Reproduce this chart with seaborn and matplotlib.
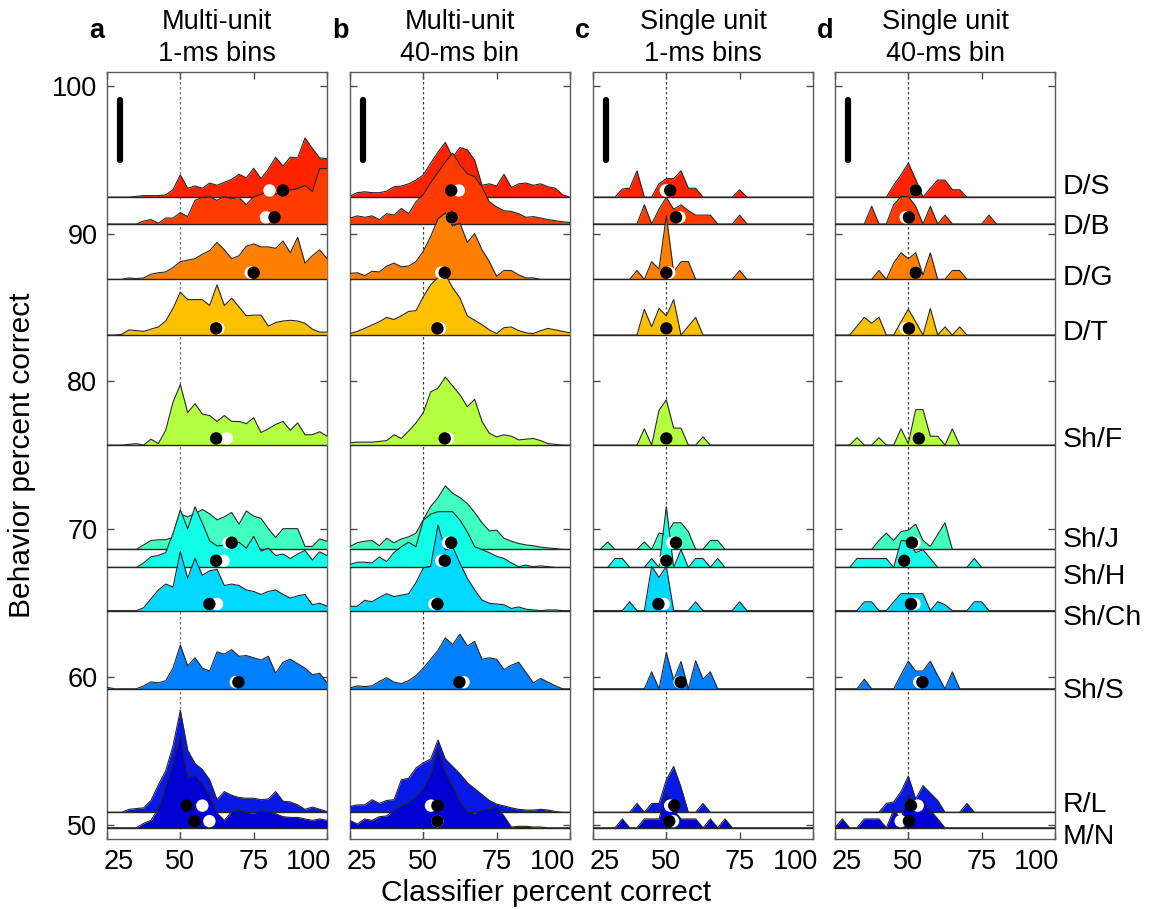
import numpy as np
import pandas as pd
import matplotlib
matplotlib.use("Agg")
import matplotlib.pyplot as plt
import seaborn as sns
from matplotlib.transforms import ScaledTranslation, blended_transform_factory

sns.set_theme(style="white")
plt.rcParams['font.family'] = ['Liberation Sans', 'DejaVu Sans']
plt.rcParams['text.color'] = 'black'
plt.rcParams['axes.labelcolor'] = 'black'
plt.rcParams['xtick.color'] = 'black'
plt.rcParams['ytick.color'] = 'black'

# ---------------- data ----------------
tasks = ['D/S', 'D/B', 'D/G', 'D/T', 'Sh/F', 'Sh/J', 'Sh/H', 'Sh/Ch', 'Sh/S', 'R/L', 'M/N']
behavior_pct = [92.48, 90.66, 86.91, 83.14, 75.69, 68.63, 67.41, 64.48, 59.19, 50.83, 49.78]
label_pos = [93.18, 90.47, 87.0, 83.3, 76.03, 69.26, 66.78, 63.98, 59.06, 51.32, 49.18]
task_colors = ['#ff2200', '#ff3c00', '#ff8000', '#ffc000', '#b4ff40', '#40ffc0',
               '#10ffe8', '#00d8ff', '#0080ff', '#0818e6', '#0000d2']
classifier_pct = [25, 27.5, 30, 32.5, 35, 37.5, 40, 42.5, 45, 47.5, 50, 52.5, 55, 57.5, 60,
                  62.5, 65, 67.5, 70, 72.5, 75, 77.5, 80, 82.5, 85, 87.5, 90, 92.5, 95, 97.5, 100]

panel_letters = ['a', 'b', 'c', 'd']
title_line1 = ['Multi-unit', 'Multi-unit', 'Single unit', 'Single unit']
title_line2 = ['1-ms bins', '40-ms bin', '1-ms bins', '40-ms bin']
x_ticks = [25, 50, 75, 100]
y_ticks = [50, 60, 70, 80, 90, 100]

hist_a = {
    'D/S': [0,0,0,0,0.05,0.1,0.1,0.1,0.15,0.5,1.5,0.6,0.75,0.6,0.95,0.8,1.0,1.2,1.55,1.3,1.95,1.25,1.9,2.7,2.1,2.7,2.65,4.0,3.3,2.65,2.6],
    'D/B': [0,0,0,0,0,0.2,0.3,0.05,0.4,0.4,0.77,0.5,1.6,1.8,1.85,1.6,1.85,1.7,1.8,1.3,1.85,2.0,2.2,2.0,2.3,2.3,2.4,2.6,2.2,3.75,3.75],
    'D/G': [0,0,0,0.1,0.05,0.1,0.35,0.45,0.5,0.8,1.2,1.3,1.4,1.7,1.95,2.5,2.0,1.4,1.6,2.25,2.4,2.2,2.2,2.1,2.6,1.8,2.85,1.1,1.6,2.0,1.4],
    'D/T': [0,0,0.05,0.35,0.3,0.25,0.4,0.55,0.95,1.8,2.9,2.4,2.4,2.4,2.0,3.4,2.0,2.5,1.9,1.3,1.35,1.35,0.6,0.85,0.95,1.0,0.95,0.8,0.4,0.2,0.2],
    'Sh/F': [0,0,0,0.05,0.1,0,0.4,0.1,1.0,2.9,4.1,2.2,2.8,2.1,2.0,1.6,2.0,1.6,1.6,1.45,1.85,0.85,1.1,1.4,1.6,1.0,1.5,0.7,0.7,0.9,0.6],
    'Sh/J': [0,0,0,0,0,0.3,0.6,0.65,0.65,0.8,2.4,2.2,2.4,2.7,2.4,2.0,2.2,2.5,1.7,2.6,2.25,2.1,1.4,0.8,1.4,1.4,1.4,0.2,0.2,0.7,0.55],
    'Sh/H': [0,0,0,0,0,0.3,0.72,0.8,1.0,2.3,3.9,2.6,4.1,3.0,1.8,1.45,1.5,1.5,1.7,1.3,2.1,1.1,1.3,0.8,0.9,0.6,0.9,1.15,0.5,1.05,0.8],
    'Sh/Ch': [0,0,0,0,0,0.2,0.8,1.4,1.8,1.6,4.0,2.2,3.55,2.4,2.7,2.8,1.7,1.8,1.7,1.4,1.3,1.1,1.3,1.4,1.1,0.85,1.0,1.1,0.4,0.5,0.3],
    'Sh/S': [0.1,0,0,0,0,0.2,0.47,0.4,0.55,1.4,2.95,1.55,2.1,1.4,1.2,2.5,2.35,2.65,2.2,2.25,2.1,1.95,2.2,1.05,1.8,2.0,1.7,1.4,0.95,1.05,0.4],
    'R/L': [0,0,0,0.2,0.25,0.3,0.8,1.85,2.8,4.5,6.9,4.2,3.3,2.9,2.2,0.85,1.4,1.15,1.0,0.95,0.95,0.85,0.9,1.4,0.75,0.7,0.5,0.2,0.35,0.2,0.05],
    'M/N': [0,0,0,0,0,0.3,0.5,1.3,2.8,4.4,6.2,3.45,3.55,3.0,2.2,1.0,0.5,1.1,1.2,1.05,1.0,1.15,1.1,0.95,0.75,0.7,0.7,0.6,0.5,0.6,0.5],
}
hist_b = {
    'D/S': [0.07,0.3,0.36,0.3,0.3,0.4,0.7,0.75,0.9,1.15,1.5,2.3,3.05,3.7,2.7,3.35,3.2,2.5,0.8,0.9,0.75,1.55,0.65,0.9,0.95,0.8,0.9,0.7,0.6,0.15,0],
    'D/B': [0.4,0.55,0.45,0.55,0.3,0.7,0.6,1.05,0.7,1.5,2.0,2.8,3.5,4.2,4.8,4.0,3.4,3.2,2.5,1.5,1.15,0.9,0.85,0.7,0.45,0.5,0.4,0.3,0.22,0.15,0.1],
    'D/G': [0.4,0.45,0.25,0.55,0.5,0.9,1.1,0.85,0.9,1.2,1.9,2.9,4.1,4.5,3.6,3.8,2.5,3.1,2.0,1.2,0.2,0.6,0.6,0.3,0.1,0.1,0,0,0,0,0],
    'D/T': [0.1,0.25,0.45,0.68,0.9,1.2,1.05,1.3,1.6,1.65,2.6,3.4,3.9,4.1,3.2,2.5,1.3,1.0,0.7,0.35,0.1,0.5,0.55,0.3,0.15,0.1,0.3,0.45,0.35,0.25,0.15],
    'Sh/F': [0.15,0.2,0.2,0.2,0.25,0.3,0.7,0.45,0.95,1.5,2.2,3.6,3.85,4.6,4.0,3.4,2.6,3.1,1.6,0.8,0.55,0.7,0.6,0.35,0.4,0.45,0.3,0.1,0.05,0,0],
    'Sh/J': [0.2,0.45,0.55,0.6,0.25,0.75,0.45,0.7,0.85,1.1,2.0,2.9,3.5,4.3,3.8,3.5,3.1,2.5,1.8,1.25,1.3,0.75,0.55,0.4,0.3,0.25,0.15,0.1,0.05,0,0],
    'Sh/H': [0.2,0.35,0.35,0.3,0.7,0.4,1.0,1.4,1.7,1.4,3.2,3.6,3.77,3.77,3.77,3.2,2.4,1.4,1.2,1.0,0.75,0.6,0.3,0.05,0.15,0.05,0.1,0.05,0,0,0],
    'Sh/Ch': [0.3,0.3,0.7,0.6,0.9,1.15,0.95,1.05,1.15,1.9,2.9,3.0,5.8,4.1,4.33,3.2,2.2,1.4,0.72,0.5,0.45,0.4,0.15,0.25,0.1,0.05,0,0.05,0.05,0,0],
    'Sh/S': [0.05,0.2,0.15,0.2,0.5,0.75,0.45,0.35,0.55,0.9,1.4,2.0,2.6,3.45,3.0,3.7,2.9,3.2,2.0,2.1,2.0,1.3,1.6,1.8,1.1,0.4,0.7,0.45,0.2,0,0],
    'R/L': [0.4,0.5,0.5,0.85,0.6,0.8,0.85,2.2,2.3,3.0,3.35,3.6,4.9,3.6,3.1,2.6,2.0,1.6,1.2,0.8,0.55,0.43,0.3,0.2,0.15,0.15,0.2,0.15,0.05,0,0],
    'M/N': [0.5,0.25,0.6,0.5,0.75,0.8,1.2,1.5,1.7,2.1,2.7,3.6,5.3,3.8,2.8,1.8,1.1,1.0,1.2,1.3,1.4,0.8,0.05,0.1,0.1,0.05,0.05,0,0,0,0],
}
hist_c = {
    'D/S': [0,0,0,0,0.55,0.6,1.78,0,0,0.9,1.25,1.25,1.78,0.6,0.6,0,0,0,0,0,0.5,0,0,0,0,0,0,0,0,0,0],
    'D/B': [0,0,0,0,0,0,0,1.3,0,1.0,1.8,1.0,1.3,0.9,0.6,0.6,0.6,0,0,0,0.6,0,0,0,0,0,0,0,0,0,0],
    'D/G': [0,0,0,0,0,0,0.6,0,1.2,0.7,4.3,0.5,1.2,1.2,0,0,0,0,0,0,0.6,0,0,0,0,0,0,0,0,0,0],
    'D/T': [0,0,0,0,0,0,0,1.74,0.56,1.8,1.3,2.4,0,0.6,1.2,0,0,0,0,0,0,0,0,0,0,0,0,0,0,0,0],
    'Sh/F': [0,0,0,0,0,0,0,1.1,0,2.35,3.05,1.15,1.15,0,0,0.55,0,0,0,0,0,0,0,0,0,0,0,0,0,0,0],
    'Sh/J': [0,0,0.5,0,0,0,0,0.5,0,1.1,1.0,1.8,1.8,1.2,0,0,0.6,0.6,0,0,0,0,0,0,0,0,0,0,0,0,0],
    'Sh/H': [0,0,0,0.6,0.6,0,0,0,0.6,0,4.1,0,1.2,0,0.6,0.6,0,0.6,0,0,0,0,0,0,0,0,0,0,0,0,0],
    'Sh/Ch': [0,0,0,0,0,0.6,0,0,3.0,2.25,3.0,0,0,0,0.6,0,0,0,0,0,0.6,0,0,0,0,0,0,0,0,0,0],
    'Sh/S': [0,0,0,0,0,0,0,0,1.15,0,2.45,0.6,1.85,0,1.9,0.65,1.15,0,0,0,0,0,0,0,0,0,0,0,0,0,0],
    'R/L': [0,0,0,0,0,0,0.6,0,0.6,0.6,2.2,3.1,1.7,0,0,0.6,0,0,0,0,0,0,0,0,0,0,0,0,0,0,0],
    'M/N': [0,0,0,0,0.6,0,0,0.6,0.6,0.6,2.4,1.2,0.6,0.6,0.6,0,0.6,0,0.6,0,0,0,0,0,0,0,0,0,0,0,0],
}
hist_d = {
    'D/S': [0,0,0,0,0,0,0,0,0.8,1.5,2.3,1.2,0,0.6,1.15,1.15,0.5,0.5,0,0,0,0,0,0,0,0,0,0,0,0,0],
    'D/B': [0,0,0,0,0,1.2,0,0,1.3,1.85,1.85,1.2,0,1.2,0,0.6,0,0,0,0,0,0.6,0,0,0,0,0,0,0,0,0],
    'D/G': [0,0,0,0,0,0,0.6,0,1.1,1.8,1.4,1.8,0.3,1.8,0,0,0.6,0.6,0,0,0,0,0,0,0,0,0,0,0,0,0],
    'D/T': [0,0,0,0.6,1.2,0.8,1.2,0,0,0.9,1.75,0.9,0,1.8,0,0.55,0,0.55,0,0,0,0,0,0,0,0,0,0,0,0,0],
    'Sh/F': [0,0,0,0.5,0,0,0.5,0,0,1.1,0.1,2.4,2.4,0.6,0.6,0,1.1,0,0,0,0,0,0,0,0,0,0,0,0,0,0],
    'Sh/J': [0,0,0,0,0,0,0.6,1.1,0.6,1.2,1.3,1.7,0.6,0.2,1.0,1.8,0,0,0,0,0,0,0,0,0,0,0,0,0,0,0],
    'Sh/H': [0,0,0,0.6,0.6,0.6,0.6,0.6,0,1.8,1.8,1.0,1.2,0.6,0,0,0,0,0,0.6,0,0,0,0,0,0,0,0,0,0,0],
    'Sh/Ch': [0,0,0,0,0.6,0.6,0,0,0.6,1.15,1.15,1.15,1.15,0,0.6,0.4,0,0,0,0.6,0.6,0,0,0,0,0,0,0,0,0,0],
    'Sh/S': [0,0,0,0,0.65,0,0,0,0,0.95,1.87,1.2,1.2,1.87,0.9,0,1.15,0,0,0,0,0,0,0,0,0,0,0,0,0,0],
    'R/L': [0,0,0,0,0,0,0,0.6,0.7,1.4,2.45,0.9,1.8,1.3,0.8,0,0,0,0.6,0,0,0,0,0,0,0,0,0,0,0,0],
    'M/N': [0,0.6,0,0,0.6,0.6,0.6,0,1.2,0.6,2.3,1.4,1.8,1.2,0.6,0,0,0,0,0,0,0,0,0,0,0,0,0,0,0,0],
}

mean_black_a = [85.0, 82.1, 75.0, 62.2, 62.2, 67.5, 62.2, 59.9, 69.8, 52.2, 54.8]
mean_white_a = [80.4, 79.2, 74.0, 63.0, 65.8, 66.4, 64.7, 62.5, 68.9, 57.5, 59.9]
mean_black_b = [59.5, 59.7, 57.3, 54.8, 57.3, 59.5, 57.3, 54.8, 62.3, 54.8, 54.8]
mean_white_b = [62.1, 59.7, 56.1, 55.7, 58.4, 58.4, 56.1, 53.8, 63.7, 52.6, 54.8]
mean_black_c = [51.3, 53.3, 50.0, 50.0, 50.0, 53.3, 50.0, 47.3, 54.9, 52.7, 51.0]
mean_white_c = [49.8, 54.5, 51.0, 50.0, 50.0, 52.0, 49.5, 49.1, 54.5, 51.3, 52.3]
mean_black_d = [52.5, 50.2, 52.5, 50.2, 53.6, 51.2, 48.6, 50.9, 54.8, 50.9, 50.2]
mean_white_d = [52.5, 49.1, 52.5, 49.1, 53.6, 52.1, 48.6, 52.1, 53.7, 53.2, 47.4]

panel_hists = [hist_a, hist_b, hist_c, hist_d]
panel_black = [mean_black_a, mean_black_b, mean_black_c, mean_black_d]
panel_white = [mean_white_a, mean_white_b, mean_white_c, mean_white_d]

# ---------------- figure ----------------
W, H = 1156, 909
fig = plt.figure(figsize=(W / 100, H / 100), dpi=100)
lefts = [107, 350, 593, 835]
ax_w, top_px, bot_px = 220, 72, 839
fs = 19.5
dot_off = 0.45

for p in range(4):
    ax = fig.add_axes([lefts[p] / W, 1 - bot_px / H, ax_w / W, (bot_px - top_px) / H])
    ax.set_xlim(25, 100)
    ax.set_ylim(49.02, 100.95)
    ax.axvline(50, color='0.25' if p else '0.45', ls=(0, (2, 2)), lw=0.9, zorder=0.5)
    hists = panel_hists[p]
    for i, t in enumerate(tasks):
        base = behavior_pct[i]
        top = base + np.array(hists[t])
        z = 2 + i
        ax.fill_between(classifier_pct, base, top, color=task_colors[i], lw=0, zorder=z)
        df = pd.DataFrame({'x': classifier_pct, 'y': top})
        sns.lineplot(data=df, x='x', y='y', ax=ax, color='0.15', lw=0.8,
                     estimator=None, sort=False, legend=False, zorder=z + 0.1)
        ax.axhline(base, color='0.15', lw=1.0, zorder=z + 0.2)
    dot_y = [b + dot_off for b in behavior_pct]
    sns.scatterplot(x=panel_white[p], y=dot_y, ax=ax, color='white', s=80,
                    edgecolor='none', linewidth=0, zorder=50, legend=False)
    sns.scatterplot(x=panel_black[p], y=dot_y, ax=ax, color='black', s=80,
                    edgecolor='none', linewidth=0, zorder=51, legend=False)
    # scale bar
    ax.plot([29.4, 29.4], [95.0, 99.05], color='black', lw=4.5,
            solid_capstyle='round', zorder=60)

    ax.set_xlabel('')
    ax.set_ylabel('')
    ax.set_xticks(x_ticks)
    ax.set_xticklabels([str(v) for v in x_ticks])
    ax.set_yticks(y_ticks)
    ax.set_yticklabels([str(v) for v in y_ticks])
    ax.tick_params(direction='in', length=5, width=1, color='0.3', labelcolor='black',
                   top=True, right=True, bottom=True, left=True,
                   labelsize=fs, pad=7)
    if p > 0:
        ax.tick_params(labelleft=False)
    xl = ax.get_xticklabels()
    xl[0].set_transform(xl[0].get_transform() + ScaledTranslation(0.12, 0, fig.dpi_scale_trans))
    xl[-1].set_transform(xl[-1].get_transform() + ScaledTranslation(-0.18, 0, fig.dpi_scale_trans))
    for sp in ax.spines.values():
        sp.set_color('0.35')
        sp.set_linewidth(1.0)
    ax.grid(False)

    cx = (lefts[p] + ax_w / 2) / W
    fig.text(cx, 1 - 22 / H, title_line1[p], ha='center', va='center', fontsize=fs, color='black')
    fig.text(cx, 1 - 54 / H, title_line2[p], ha='center', va='center', fontsize=fs, color='black')
    fig.text((lefts[p] - 10) / W, 1 - 31 / H, panel_letters[p], ha='center', va='center',
             fontsize=fs, fontweight='bold', color='black')

    if p == 3:
        tr = blended_transform_factory(ax.transAxes, ax.transData)
        for i, t in enumerate(tasks):
            ax.text(1.036, label_pos[i], t, transform=tr, ha='left', va='center',
                    fontsize=20.5, color='black')

fig.text(546 / W, 1 - 893 / H, 'Classifier percent correct', ha='center', va='center',
         fontsize=21.5, color='black')
fig.text(22 / W, 1 - 455 / H, 'Behavior percent correct', ha='center', va='center',
         fontsize=21.5, rotation=90, color='black')

fig.savefig('out.png', dpi=100)
